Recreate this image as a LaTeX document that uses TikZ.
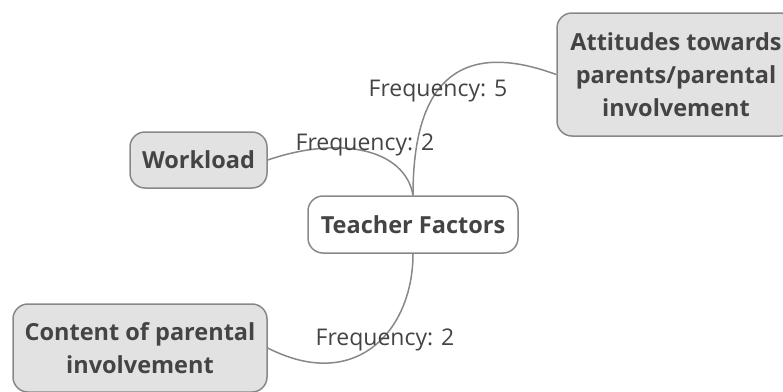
\documentclass[tikz,border=0pt]{standalone}
\usepackage{fontspec}
\setmainfont{Open Sans}
\definecolor{txt}{HTML}{444444}
\definecolor{edge}{HTML}{888888}
\definecolor{boxfill}{HTML}{E2E2E2}
\begin{document}
\begin{tikzpicture}[x=1pt,y=-1pt,
  box/.style={draw=edge,line width=1.5pt,rounded corners=15pt,text=txt,
    font=\fontsize{23.5}{33}\selectfont\bfseries,align=center,inner sep=0pt},
  leaf/.style={box,fill=boxfill},
  link/.style={draw=edge,line width=1.5pt},
  lab/.style={text=txt,font=\fontsize{23}{26}\selectfont,inner sep=0pt}]
\useasboundingbox (0,0) rectangle (783,391);
\node[box,fill=white,minimum width=210pt,minimum height=57pt] (tf) at (413,224.5) {Teacher Factors};
\node[leaf,minimum width=137pt,minimum height=56pt] (wl) at (198.5,160) {Workload};
\node[leaf,minimum width=238pt,minimum height=123pt] (att) at (676,74.5) {Attitudes towards\\parents/parental\\involvement};
\node[leaf,minimum width=254pt,minimum height=88pt] (cnt) at (140,348) {Content of parental\\involvement};
\draw[link] (tf.north) .. controls +(0,-86) and +(-117,-43) .. (att.west);
\draw[link] (tf.north) .. controls +(-8,-46) and +(73,-25) .. (wl.east);
\draw[link] (tf.south) .. controls +(0,77) and +(88,45) .. (cnt.east);
\node[lab] (l5) at (438,91) {Frequency: 5};
\node[lab] (l2a) at (365,145) {Frequency: 2};
\node[lab] (l2b) at (385,340) {Frequency: 2};
\end{tikzpicture}
\end{document}
